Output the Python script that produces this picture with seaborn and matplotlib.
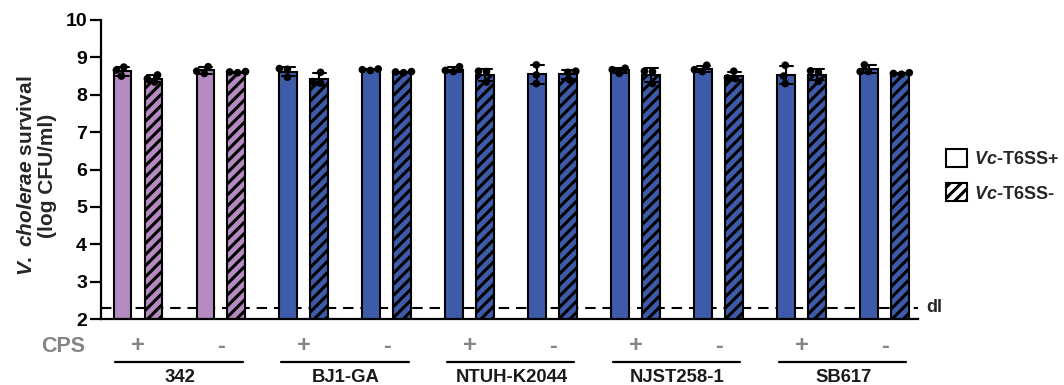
import numpy as np
import pandas as pd
import matplotlib
matplotlib.use("Agg")
import matplotlib.pyplot as plt
import matplotlib.transforms as mtransforms
from matplotlib.patches import Patch
import seaborn as sns

# ---------------- data ----------------
strains = ["342", "BJ1-GA", "NTUH-K2044", "NJST258-1", "SB617"]
cps_states = ["+", "-"]
t6ss_levels = [r"$Vc$-T6SS+", r"$Vc$-T6SS-"]

# replicate values (log CFU/ml), one list of 3 per strain/CPS pair, in order
t6ss_pos = [
    [8.50, 8.66, 8.74],  # 342 +
    [8.57, 8.63, 8.75],  # 342 -
    [8.47, 8.68, 8.70],  # BJ1-GA +
    [8.65, 8.67, 8.69],  # BJ1-GA -
    [8.62, 8.65, 8.75],  # NTUH-K2044 +
    [8.30, 8.53, 8.80],  # NTUH-K2044 -
    [8.57, 8.67, 8.71],  # NJST258-1 +
    [8.62, 8.67, 8.79],  # NJST258-1 -
    [8.30, 8.50, 8.79],  # SB617 +
    [8.62, 8.62, 8.80],  # SB617 -
]
t6ss_neg = [
    [8.34, 8.43, 8.53],
    [8.59, 8.61, 8.62],
    [8.31, 8.35, 8.60],
    [8.59, 8.61, 8.62],
    [8.34, 8.62, 8.63],
    [8.40, 8.60, 8.63],
    [8.30, 8.62, 8.63],
    [8.43, 8.45, 8.63],
    [8.36, 8.60, 8.64],
    [8.55, 8.57, 8.59],
]
detection_limit = 2.3
y_ticks = [2, 3, 4, 5, 6, 7, 8, 9, 10]

strain_colors = ["#B48AC0", "#3E5BA9", "#3E5BA9", "#3E5BA9", "#3E5BA9"]

# ---------------- table ----------------
pair_order = [f"{s} {c}" for s in strains for c in cps_states]
rows = []
for i, pair in enumerate(pair_order):
    for v in t6ss_pos[i]:
        rows.append({"pair": pair, "t6ss": t6ss_levels[0], "value": v})
    for v in t6ss_neg[i]:
        rows.append({"pair": pair, "t6ss": t6ss_levels[1], "value": v})
df = pd.DataFrame(rows)

# ---------------- style ----------------
sns.set_theme(style="ticks")
plt.rcParams["font.family"] = ["Liberation Sans", "DejaVu Sans"]
plt.rcParams["font.weight"] = "bold"
plt.rcParams["mathtext.fontset"] = "custom"
plt.rcParams["mathtext.it"] = "Liberation Sans:italic:bold"
plt.rcParams["mathtext.rm"] = "Liberation Sans:bold"
plt.rcParams["mathtext.bf"] = "Liberation Sans:bold"
plt.rcParams["hatch.linewidth"] = 2.2
plt.rcParams["hatch.color"] = "black"

fig = plt.figure(figsize=(10.64, 3.85), dpi=100)
ax = fig.add_axes([101 / 1064, 1 - 319 / 385, 817 / 1064, 299 / 385])

np.random.seed(0)
sns.barplot(
    data=df, x="pair", y="value", hue="t6ss",
    order=pair_order, hue_order=t6ss_levels,
    palette=["white", "white"], width=0.747, gap=0.42,
    errorbar="sd", capsize=0.3,
    err_kws={"color": "black", "linewidth": 1.5, "zorder": 3},
    edgecolor="black", linewidth=1.5, legend=False, ax=ax,
)
for p in ax.patches:
    cx = p.get_x() + p.get_width() / 2
    idx = int(round(cx))
    p.set_facecolor(strain_colors[idx // 2])
    p.set_edgecolor("black")
    if cx > idx:
        p.set_hatch("///")

sns.swarmplot(
    data=df, x="pair", y="value", hue="t6ss",
    order=pair_order, hue_order=t6ss_levels,
    palette=["black", "black"], dodge=True, size=5.5,
    legend=False, ax=ax, zorder=4,
)

ax.axhline(detection_limit, color="black", lw=1.5, ls=(0, (5, 3.3)), zorder=0.5)

ax.set_xlim(-0.446, 9.40)
ax.set_ylim(2, 10)
ax.set_yticks(y_ticks)
ax.set_xlabel("")
ax.set_ylabel("")
ax.tick_params(axis="y", length=8, width=1.6, labelsize=14, pad=2, colors="black")
ax.tick_params(axis="x", bottom=False, labelbottom=False)
for lab in ax.get_yticklabels():
    lab.set_fontweight("bold")
sns.despine(ax=ax)
for s in ("left", "bottom"):
    ax.spines[s].set_linewidth(1.6)
    ax.spines[s].set_color("black")

# detection-limit label
ax.text(1.01, detection_limit, "dl",
        transform=mtransforms.blended_transform_factory(ax.transAxes, ax.transData),
        ha="left", va="center", fontsize=13, fontweight="bold")

# CPS row, underlines, strain names
trans = mtransforms.blended_transform_factory(ax.transData, fig.transFigure)
grey = "#858585"
fig.text(85 / 1064, 1 - 347 / 385, "CPS", ha="right", va="center",
         fontsize=15.5, fontweight="bold", color=grey)
for i, pair in enumerate(pair_order):
    ax.text(i, 1 - 346 / 385, cps_states[i % 2], transform=trans, ha="center",
            va="center", fontsize=17, fontweight="bold", color=grey, clip_on=False)
for j, s in enumerate(strains):
    ax.plot([2 * j - 0.28, 2 * j + 1.26], [1 - 362 / 385] * 2, transform=trans,
            color="black", lw=1.6, clip_on=False)
    ax.text(2 * j + 0.5, 1 - 377 / 385, s, transform=trans, ha="center",
            va="center", fontsize=13.3, fontweight="bold", color="#1a1a1a", clip_on=False)

# y label
fig.text(37 / 1064, 1 - 176 / 385, "$V.$ $cholerae$ survival\n(log CFU/ml)",
         rotation=90, ha="center", va="center", multialignment="center",
         fontsize=15, fontweight="bold", linespacing=1.1)

# legend
handles = [
    Patch(facecolor="white", edgecolor="black", linewidth=1.5),
    Patch(facecolor="white", edgecolor="black", linewidth=1.5, hatch="///"),
]
fig.legend(handles=handles, labels=t6ss_levels, loc="upper left",
           bbox_to_anchor=(946 / 1064, 1 - 149 / 385), frameon=False,
           borderpad=0, borderaxespad=0, handlelength=1.15, handleheight=1.15,
           handletextpad=0.4, labelspacing=0.85,
           prop={"size": 13, "weight": "bold"})

fig.savefig("out.png", dpi=100)
